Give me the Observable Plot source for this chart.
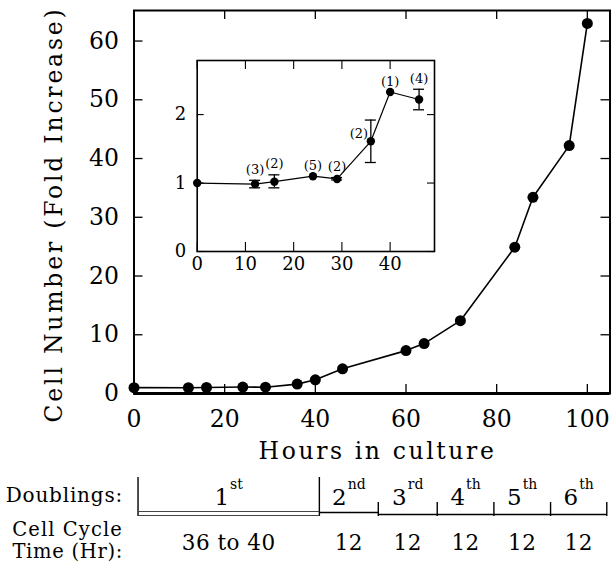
<!DOCTYPE html>
<html><head><meta charset="utf-8">
<script src="https://cdn.jsdelivr.net/npm/d3@7"></script>
<script src="https://cdn.jsdelivr.net/npm/@observablehq/plot@0.6"></script>
<style>
html,body{margin:0;padding:0;background:#fff;}
#chart{position:relative;width:611px;height:565px;overflow:hidden;background:#fff;}
#inset{position:absolute;left:150px;top:40px;}
</style></head><body>
<div id="chart"></div>
<script>
// ---- data ----
const hours = [0, 12, 16, 24, 29, 36, 40, 46, 60, 64, 72, 84, 88, 96, 100];
const foldIncrease = [1, 0.98, 1.02, 1.1, 1.07, 1.6, 2.33, 4.2, 7.3, 8.5, 12.4, 24.9, 33.4, 42.2, 63.0];
const insetHours = [0, 12, 16, 24, 29, 36, 40, 46];
const insetFold = [1, 0.985, 1.02, 1.10, 1.06, 1.61, 2.33, 2.22];
const insetErrLow = [null, 0.93, 0.93, null, 1.045, 1.30, null, 2.07];
const insetErrHigh = [null, 1.04, 1.12, null, 1.08, 1.92, null, 2.37];
const insetN = ["", "(3)", "(2)", "(5)", "(2)", "(2)", "(1)", "(4)"];
const mainXTicks = [0, 20, 40, 60, 80, 100];
const mainYTicks = [0, 10, 20, 30, 40, 50, 60];
const insetXTicks = [0, 10, 20, 30, 40];
const insetYTicks = [0, 1, 2];
const doublingBounds = [1, 41, 54, 67, 79.5, 92, 104.4];
const doublingNumbers = ["1", "2", "3", "4", "5", "6"];
const doublingSuffixes = ["st", "nd", "rd", "th", "th", "th"];
const cycleTimes = ["36 to 40", "12", "12", "12", "12", "12"];
const xTitle = "Hours in culture";
const yTitle = "Cell Number (Fold Increase)";

const FONT = "'DejaVu Serif', serif";

// ---- main chart ----
const W = 611, H = 565, mL = 133.5, mR = 1.5, mT = 10, mB = 172;
const innerW = W - mL - mR, innerH = H - mT - mB;
const mainRows = hours.map((h, i) => ({h, v: foldIncrease[i]}));

function doublingTable(index, scales, values, dimensions) {
  const x = scales.x;
  const base = dimensions.height - dimensions.marginBottom;
  const g = d3.create("svg:g").attr("fill", "black").attr("font-family", FONT);
  const px = doublingBounds.map(b => x(b));
  g.append("text").attr("x", 123).attr("y", base + 109).attr("text-anchor", "end")
    .attr("font-size", 20).attr("letter-spacing", 0.8).text("Doublings:");
  g.append("text").attr("x", 123).attr("y", base + 143).attr("text-anchor", "end")
    .attr("font-size", 19.5).attr("letter-spacing", 1.1).text("Cell Cycle");
  g.append("text").attr("x", 123).attr("y", base + 165).attr("text-anchor", "end")
    .attr("font-size", 19.5).attr("letter-spacing", 0.7).text("Time (Hr):");
  for (let i = 0; i < px.length; i++) {
    const top = i < 2 ? base + 84 : base + 109;
    const bottom = base + 123;
    g.append("line").attr("x1", px[i]).attr("x2", px[i]).attr("y1", top).attr("y2", bottom)
      .attr("stroke", "black").attr("stroke-width", 1.4);
  }
  for (let i = 0; i < px.length - 1; i++) {
    if (i === 0) {
      [118.5, 122.5].forEach(o => g.append("line").attr("x1", px[0]).attr("x2", px[1])
        .attr("y1", base + o).attr("y2", base + o).attr("stroke", "#444").attr("stroke-width", 1));
    } else {
      const o = i === 1 ? 119.5 : 121.5;
      g.append("line").attr("x1", px[i]).attr("x2", px[i + 1]).attr("y1", base + o).attr("y2", base + o)
        .attr("stroke", "black").attr("stroke-width", 1.6);
    }
    const cx = (px[i] + px[i + 1]) / 2;
    const t = g.append("text").attr("x", cx).attr("y", base + 112).attr("text-anchor", "middle");
    t.append("tspan").attr("font-size", 23).text(doublingNumbers[i]);
    t.append("tspan").attr("font-size", 14).attr("dy", -16).attr("dx", 1).text(doublingSuffixes[i]);
    g.append("text").attr("x", cx).attr("y", base + 157).attr("text-anchor", "middle")
      .attr("font-size", 21.5).attr("letter-spacing", 0.5).text(cycleTimes[i]);
  }
  return g.node();
}

const main = Plot.plot({
  width: W, height: H, marginLeft: mL, marginRight: mR, marginTop: mT, marginBottom: mB,
  style: {fontFamily: FONT, fontSize: "23.5px", background: "white", color: "black", overflow: "visible"},
  x: {domain: [0, 105]},
  y: {domain: [0, 65.2]},
  marks: [
    Plot.axisX({ticks: mainXTicks, tickSize: 0, tickPadding: 17, fontSize: 23.5, label: null}),
    Plot.axisY({ticks: mainYTicks, tickSize: 0, tickPadding: 15, fontSize: 23.5, label: null}),
    Plot.tickY(mainYTicks, {y: d => d, insetRight: innerW - 9, strokeWidth: 1.3}),
    Plot.tickY(mainYTicks, {y: d => d, insetLeft: innerW - 9, strokeWidth: 1.3}),
    Plot.tickX(mainXTicks, {x: d => d, insetTop: innerH - 9, strokeWidth: 1.3}),
    Plot.tickX(mainXTicks, {x: d => d, insetBottom: innerH - 9, strokeWidth: 1.3}),
    Plot.frame({strokeWidth: 2}),
    Plot.ruleY([0], {strokeWidth: 3}),
    Plot.line(mainRows, {x: "h", y: "v", strokeWidth: 1.6}),
    Plot.dot(mainRows, {x: "h", y: "v", r: 5.5, fill: "black", stroke: "none"}),
    Plot.text([yTitle], {text: d => d, frameAnchor: "left", textAnchor: "middle", rotate: -90, dx: -79.5, dy: 12.5, fontSize: 23.5, lineAnchor: "middle"}),
    Plot.text([xTitle], {text: d => d, frameAnchor: "bottom", textAnchor: "middle", dx: 5.5, dy: 58, fontSize: 23.5, lineAnchor: "middle"}),
    doublingTable
  ]
});
d3.select(main).selectAll("text").filter(function() { return this.textContent === yTitle || this.textContent === xTitle; })
  .attr("letter-spacing", function() { return this.textContent === yTitle ? 2.8 : 2.6; });

// ---- inset ----
const insetRows = insetHours.map((h, i) => ({h, v: insetFold[i], lo: insetErrLow[i], hi: insetErrHigh[i], n: insetN[i], i}));
const errRows = insetRows.filter(d => d.lo != null);
const iW = 300, iH = 245, iL = 46.7, iR = 16, iT = 20, iB = 34;
const iInnerW = iW - iL - iR, iInnerH = iH - iT - iB;

const inset = Plot.plot({
  width: iW, height: iH, marginLeft: iL, marginRight: iR, marginTop: iT, marginBottom: iB,
  style: {fontFamily: FONT, fontSize: "18px", background: "transparent", color: "black", overflow: "visible"},
  x: {domain: [0, 49.2]},
  y: {domain: [0, 2.79]},
  marks: [
    Plot.frame({fill: "white", stroke: "none"}),
    Plot.axisX({ticks: insetXTicks, tickFormat: d => String(d), tickSize: 0, tickPadding: 6, fontSize: 18, label: null}),
    Plot.axisY({ticks: insetYTicks, tickFormat: d => String(d), tickSize: 0, tickPadding: 11, fontSize: 18, label: null}),
    Plot.tickY(insetYTicks, {y: d => d, insetRight: iInnerW - 7, strokeWidth: 1.1}),
    Plot.tickY(insetYTicks, {y: d => d, insetLeft: iInnerW - 7, strokeWidth: 1.1}),
    Plot.tickX(insetXTicks, {x: d => d, insetTop: iInnerH - 9, strokeWidth: 1.1}),
    Plot.tickX(insetXTicks, {x: d => d, insetBottom: iInnerH - 9, strokeWidth: 1.1}),
    Plot.frame({stroke: "black", strokeWidth: 1.6}),
    Plot.line(insetRows, {x: "h", y: "v", strokeWidth: 1.2}),
    Plot.ruleX(errRows, {x: "h", y1: "lo", y2: "hi", strokeWidth: 1.3}),
    Plot.ruleY(errRows, {y: "lo", x1: "h", x2: "h", insetLeft: -5.5, insetRight: -5.5, strokeWidth: 1.3}),
    Plot.ruleY(errRows, {y: "hi", x1: "h", x2: "h", insetLeft: -5.5, insetRight: -5.5, strokeWidth: 1.3}),
    Plot.dot(insetRows, {x: "h", y: "v", r: 4.2, fill: "black", stroke: "none"}),
    Plot.text(insetRows.filter(d => d.n && d.i !== 5), {x: "h", y: d => d.hi ?? d.v, text: "n", dy: -10.5, fontSize: 13, lineAnchor: "middle"}),
    Plot.text(insetRows.filter(d => d.i === 5), {x: "h", y: "v", text: "n", dx: -12, dy: -7, fontSize: 13, lineAnchor: "middle"})
  ]
});
inset.id = "inset";

const chart = document.getElementById("chart");
chart.appendChild(main);
chart.appendChild(inset);
</script>
</body></html>
